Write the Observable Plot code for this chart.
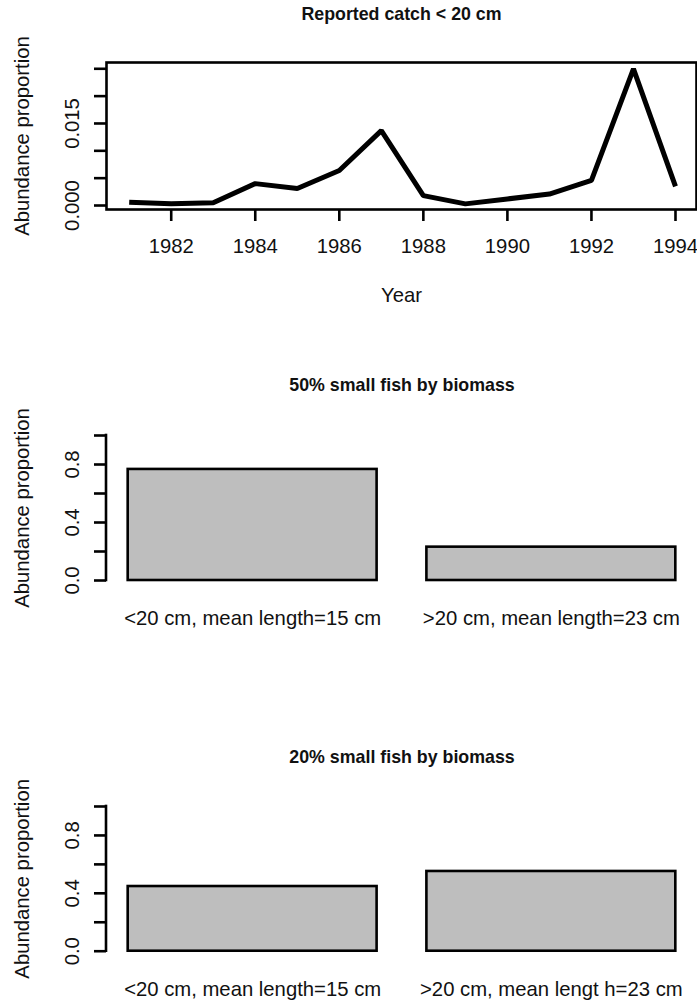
<!DOCTYPE html>
<html>
<head>
<meta charset="utf-8">
<script src="https://cdn.jsdelivr.net/npm/d3@7"></script>
<script src="https://cdn.jsdelivr.net/npm/@observablehq/plot@0.6"></script>
<style>
  html, body { margin: 0; padding: 0; background: #ffffff; }
  #chart { width: 697px; font-family: "Liberation Sans", Arial, sans-serif; }
  #chart svg { display: block; }
</style>
</head>
<body>
<div id="chart"></div>
<script>
// ---- Data ----
const years = [1981, 1982, 1983, 1984, 1985, 1986, 1987, 1988, 1989, 1990, 1991, 1992, 1993, 1994];
const catchProportion = [0.0006, 0.0003, 0.0005, 0.0040, 0.0031, 0.0064, 0.0137, 0.0018, 0.0003, 0.0012, 0.0021, 0.0046, 0.0250, 0.0035];
const yearTicks = [1982, 1984, 1986, 1988, 1990, 1992, 1994];
const catchTicks = [0, 0.005, 0.010, 0.015, 0.020, 0.025];
const catchTickLabels = [0, 0.015];

const categories50 = ["<20 cm, mean length=15 cm", ">20 cm, mean length=23 cm"];
const values50 = [0.766, 0.23];
const categories20 = ["<20 cm, mean length=15 cm", ">20 cm, mean lengt h=23 cm"];
const values20 = [0.447, 0.551];
const barTicks = [0, 0.2, 0.4, 0.6, 0.8, 1.0];
const barTickLabels = [0, 0.4, 0.8];

const title1 = "Reported catch < 20 cm";
const title2 = "50% small fish by biomass";
const title3 = "20% small fish by biomass";
const yLabel = "Abundance proportion";
const xLabel1 = "Year";

// ---- Styles ----
const FONT = "Liberation Sans, Arial, sans-serif";
const AXIS_FS = 20.3;
const TITLE_FS = 17.8;
const LW = 2.6;

const container = document.getElementById("chart");

// Custom mark: y axis line from first to last tick (R style)
function yAxisLine(lo, hi) {
  return (index, scales, values, dims) => {
    const ns = "http://www.w3.org/2000/svg";
    const l = document.createElementNS(ns, "line");
    l.setAttribute("x1", dims.marginLeft);
    l.setAttribute("x2", dims.marginLeft);
    l.setAttribute("y1", scales.y(lo));
    l.setAttribute("y2", scales.y(hi));
    l.setAttribute("stroke", "black");
    l.setAttribute("stroke-width", LW);
    l.setAttribute("stroke-linecap", "square");
    return l;
  };
}

// ---- Panel 1: line chart ----
const lineData = years.map((y, i) => ({year: y, value: catchProportion[i]}));
const p1 = Plot.plot({
  width: 697,
  height: 340,
  marginTop: 62,
  marginBottom: 131,
  marginLeft: 106,
  marginRight: 1,
  style: {fontFamily: FONT, background: "white", overflow: "visible"},
  x: {domain: [1980.46, 1994.5]},
  y: {domain: [-0.00073, 0.02615]},
  marks: [
    Plot.frame({stroke: "black", strokeWidth: LW}),
    Plot.axisX({ticks: yearTicks, tickSize: 12, tickFormat: () => "", strokeWidth: LW, label: null}),
    Plot.axisY({ticks: catchTicks, tickSize: 12, tickFormat: () => "", strokeWidth: LW, label: null}),
    Plot.text(yearTicks, {x: d => d, frameAnchor: "bottom", dy: 37, text: d => String(d), fontSize: AXIS_FS, fill: "#111", lineAnchor: "middle"}),
    Plot.text(catchTickLabels, {y: d => d, frameAnchor: "left", dx: -34, rotate: -90, text: d => d3.format(".3f")(d), fontSize: AXIS_FS, fill: "#111", textAnchor: "middle", lineAnchor: "middle"}),
    Plot.text([yLabel], {frameAnchor: "left", dx: -84, rotate: -90, text: d => d, fontSize: AXIS_FS, fill: "#111", textAnchor: "middle", lineAnchor: "middle"}),
    Plot.text([xLabel1], {frameAnchor: "bottom", dy: 86, text: d => d, fontSize: AXIS_FS, fill: "#111", lineAnchor: "middle"}),
    Plot.text([title1], {frameAnchor: "top", dy: -48, text: d => d, fontSize: TITLE_FS, fontWeight: "bold", fill: "#111", lineAnchor: "middle"}),
    Plot.line(lineData, {x: "year", y: "value", stroke: "black", strokeWidth: 5, strokeLinejoin: "miter", strokeLinecap: "butt"})
  ]
});
container.appendChild(p1);

// ---- Bar panels ----
function barPanel(cats, vals, title, height, marginTop, marginBottom, titleDy, labelDy) {
  const data = cats.map((c, i) => ({cat: c, value: vals[i]}));
  return Plot.plot({
    width: 697,
    height,
    marginTop,
    marginBottom,
    marginLeft: 106,
    marginRight: 0,
    style: {fontFamily: FONT, background: "white", overflow: "visible"},
    x: {type: "band", domain: cats, paddingInner: 0.1667, paddingOuter: 0.0726, round: false, axis: null},
    y: {domain: [-0.04, 1.04]},
    marks: [
      Plot.barY(data, {x: "cat", y1: 0, y2: "value", fill: "#bebebe", stroke: "black", strokeWidth: LW}),
      yAxisLine(0, 1),
      Plot.axisY({ticks: barTicks, tickSize: 12, tickFormat: () => "", strokeWidth: LW, label: null}),
      Plot.text(barTickLabels, {y: d => d, frameAnchor: "left", dx: -34, rotate: -90, text: d => d3.format(".1f")(d), fontSize: AXIS_FS, fill: "#111", textAnchor: "middle", lineAnchor: "middle"}),
      Plot.text([yLabel], {frameAnchor: "left", dx: -84, rotate: -90, text: d => d, fontSize: AXIS_FS, fill: "#111", textAnchor: "middle", lineAnchor: "middle"}),
      Plot.text(data, {x: "cat", frameAnchor: "bottom", dy: labelDy, text: "cat", fontSize: AXIS_FS, fill: "#111", lineAnchor: "middle"}),
      Plot.text([title], {frameAnchor: "top", dy: titleDy, text: d => d, fontSize: TITLE_FS, fontWeight: "bold", fill: "#111", lineAnchor: "middle"})
    ]
  });
}

container.appendChild(barPanel(categories50, values50, title2, 360, 89.2, 114.2, -44.2, 32.2));
container.appendChild(barPanel(categories20, values20, title3, 302, 100.2, 45.5, -43.5, 32.5));
</script>
</body>
</html>
